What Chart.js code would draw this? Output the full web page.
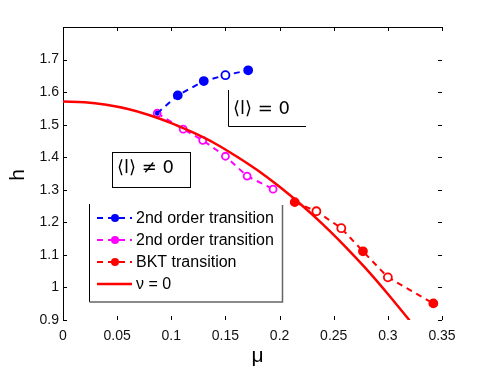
<!DOCTYPE html>
<html><head><meta charset="utf-8">
<script src="https://cdn.jsdelivr.net/npm/chart.js@4.4.0/dist/chart.umd.min.js"></script>
<style>html,body{margin:0;padding:0;background:#fff}</style>
</head><body>
<canvas id="c" width="491" height="369"></canvas>
<script>
// ---- data ----
const xTicks = [0, 0.05, 0.1, 0.15, 0.2, 0.25, 0.3, 0.35];
const yTicks = [0.9, 1, 1.1, 1.2, 1.3, 1.4, 1.5, 1.6, 1.7];

const blueMu = [0.087, 0.106, 0.130, 0.150, 0.171];
const blueH  = [1.535, 1.590, 1.634, 1.652, 1.667];

const magMu = [0.087, 0.111, 0.129, 0.150, 0.170, 0.194];
const magH  = [1.535, 1.486, 1.452, 1.403, 1.342, 1.302];

const bktMu = [0.214, 0.234, 0.257, 0.277, 0.300, 0.342];
const bktH  = [1.262, 1.234, 1.182, 1.111, 1.031, 0.951];

const nuMu = [0, 0.02, 0.04, 0.06, 0.08, 0.10, 0.12, 0.14, 0.16, 0.18, 0.20, 0.22, 0.24, 0.26, 0.28, 0.30, 0.32];
const nuH  = [1.571, 1.569, 1.561, 1.548, 1.529, 1.505, 1.476, 1.443, 1.403, 1.359, 1.309, 1.254, 1.194, 1.128, 1.057, 0.980, 0.899];

const labels = ['2nd order transition', '2nd order transition', 'BKT transition', 'ν = 0'];

const pts = (xs, ys) => xs.map((x, i) => ({x, y: ys[i]}));
const FONT = '"Liberation Sans", Arial, sans-serif';

const blueFill = ['#0000ff', '#0000ff', '#0000ff', '#ffffff', '#0000ff'];
const magFill  = ['#ffffff', '#ffffff', '#ffffff', '#ffffff', '#ffffff', '#ffffff'];
const redFill  = ['#ff0000', '#ffffff', '#ffffff', '#ff0000', '#ffffff', '#ff0000'];

const datasets = [
  {label: labels[0], data: pts(blueMu, blueH), showLine: true, borderColor: '#0000ff', borderWidth: 2, borderDash: [6, 5],
   pointRadius: [1.5, 4, 4, 4, 4], pointBorderWidth: 1.8, pointBackgroundColor: blueFill, pointBorderColor: '#0000ff', order: 2},
  {label: labels[1], data: pts(magMu, magH), showLine: true, borderColor: '#ff00ff', borderWidth: 2, borderDash: [6, 5],
   pointRadius: 3.5, pointBorderWidth: 1.8, pointBackgroundColor: magFill, pointBorderColor: '#ff00ff', order: 3},
  {label: labels[2], data: pts(bktMu, bktH), showLine: true, borderColor: '#ff0000', borderWidth: 2, borderDash: [6, 5],
   pointRadius: 4, pointBorderWidth: 1.8, pointBackgroundColor: redFill, pointBorderColor: '#ff0000', order: 1},
  {label: labels[3], data: pts(nuMu, nuH), showLine: true, borderColor: '#ff0000', borderWidth: 2.5,
   pointRadius: 0, tension: 0.4, cubicInterpolationMode: 'monotone', order: 0}
];

const deco = {
  id: 'deco',
  afterDraw(chart) {
    const ctx = chart.ctx, a = chart.chartArea;
    const xs = chart.scales.x, ys = chart.scales.y;
    ctx.save();
    ctx.strokeStyle = '#000'; ctx.lineWidth = 1;
    // top border
    ctx.beginPath(); ctx.moveTo(a.left, a.top + 0.5); ctx.lineTo(a.right, a.top + 0.5); ctx.stroke();
    // inward ticks
    ctx.beginPath();
    xTicks.forEach(v => {
      const p = Math.round(xs.getPixelForValue(v)) + 0.5;
      ctx.moveTo(p, a.bottom); ctx.lineTo(p, a.bottom - 4);
      ctx.moveTo(p, a.top); ctx.lineTo(p, a.top + 4);
    });
    yTicks.forEach(v => {
      const p = Math.round(ys.getPixelForValue(v)) + 0.5;
      ctx.moveTo(a.left, p); ctx.lineTo(a.left + 4, p);
      ctx.moveTo(a.right, p); ctx.lineTo(a.right - 4, p);
    });
    ctx.stroke();

    // axis titles
    ctx.fillStyle = '#000';
    ctx.font = '21px ' + FONT;
    ctx.textAlign = 'center'; ctx.textBaseline = 'middle';
    ctx.fillText('μ', (a.left + a.right) / 2 + 5, 356);
    ctx.save(); ctx.translate(18, 175); ctx.rotate(-Math.PI / 2); ctx.fillText('h', 0, 0); ctx.restore();

    // region labels
    ctx.font = '18px "DejaVu Sans", ' + FONT;
    ctx.textAlign = 'left';
    ctx.fillText('⟨l⟩ = 0', 233, 109);
    ctx.beginPath(); ctx.moveTo(228.5, 90); ctx.lineTo(228.5, 126.5); ctx.lineTo(306, 126.5); ctx.stroke();
    ctx.fillText('⟨l⟩ ≠ 0', 117, 168);
    ctx.strokeRect(112.5, 152.5, 78, 35);

    // legend
    const L = {x: 89.5, y: 204, w: 193, h: 98};
    ctx.fillStyle = '#fff';
    ctx.fillRect(L.x, L.y, L.w, L.h);
    ctx.strokeStyle = '#000';
    ctx.beginPath(); ctx.moveTo(L.x, L.y); ctx.lineTo(L.x, L.y + L.h); ctx.stroke();
    ctx.strokeStyle = '#666'; ctx.lineWidth = 1.5;
    ctx.beginPath(); ctx.moveTo(L.x, L.y + L.h); ctx.lineTo(L.x + L.w, L.y + L.h); ctx.lineTo(L.x + L.w, L.y + 1); ctx.stroke();
    ctx.font = '16px ' + FONT; ctx.textBaseline = 'middle'; ctx.fillStyle = '#000';
    const rows = [218, 240, 262, 284];
    chart.data.datasets.forEach((ds, i) => {
      const y = rows[i];
      ctx.save();
      ctx.strokeStyle = ds.borderColor; ctx.lineWidth = ds.borderWidth;
      ctx.setLineDash(ds.borderDash ? [6, 5] : []);
      ctx.beginPath(); ctx.moveTo(97, y); ctx.lineTo(132, y); ctx.stroke();
      ctx.setLineDash([]);
      if (ds.borderDash) {
        ctx.fillStyle = ds.borderColor;
        ctx.beginPath(); ctx.arc(115, y, 4, 0, Math.PI * 2); ctx.fill();
      }
      ctx.restore();
      ctx.fillText(ds.label, 136, y + 1);
    });
    ctx.restore();
  }
};

new Chart(document.getElementById('c'), {
  type: 'scatter',
  data: {datasets},
  options: {
    responsive: false, animation: false,
    layout: {padding: {left: 0, right: 49, top: 27, bottom: 0}},
    plugins: {legend: {display: false}, tooltip: {enabled: false}},
    scales: {
      x: {
        type: 'linear', min: 0, max: 0.35,
        afterBuildTicks: s => { s.ticks = xTicks.map(v => ({value: v})); },
        afterFit: s => { s.height = 49; },
        grid: {display: false, drawTicks: false},
        border: {display: false},
        ticks: {padding: 8, color: '#111', font: {size: 14, family: FONT},
                callback: v => String(parseFloat(v.toFixed(2)))}
      },
      y: {
        type: 'linear', min: 0.9, max: 1.8,
        afterBuildTicks: s => { s.ticks = yTicks.map(v => ({value: v})); },
        afterFit: s => { s.width = 63; },
        grid: {display: false, drawTicks: false},
        border: {display: true, color: '#000', width: 1},
        ticks: {padding: 4, color: '#111', font: {size: 14, family: FONT},
                callback: v => String(parseFloat(v.toFixed(1)))}
      }
    }
  },
  plugins: [deco]
});
</script>
</body></html>
